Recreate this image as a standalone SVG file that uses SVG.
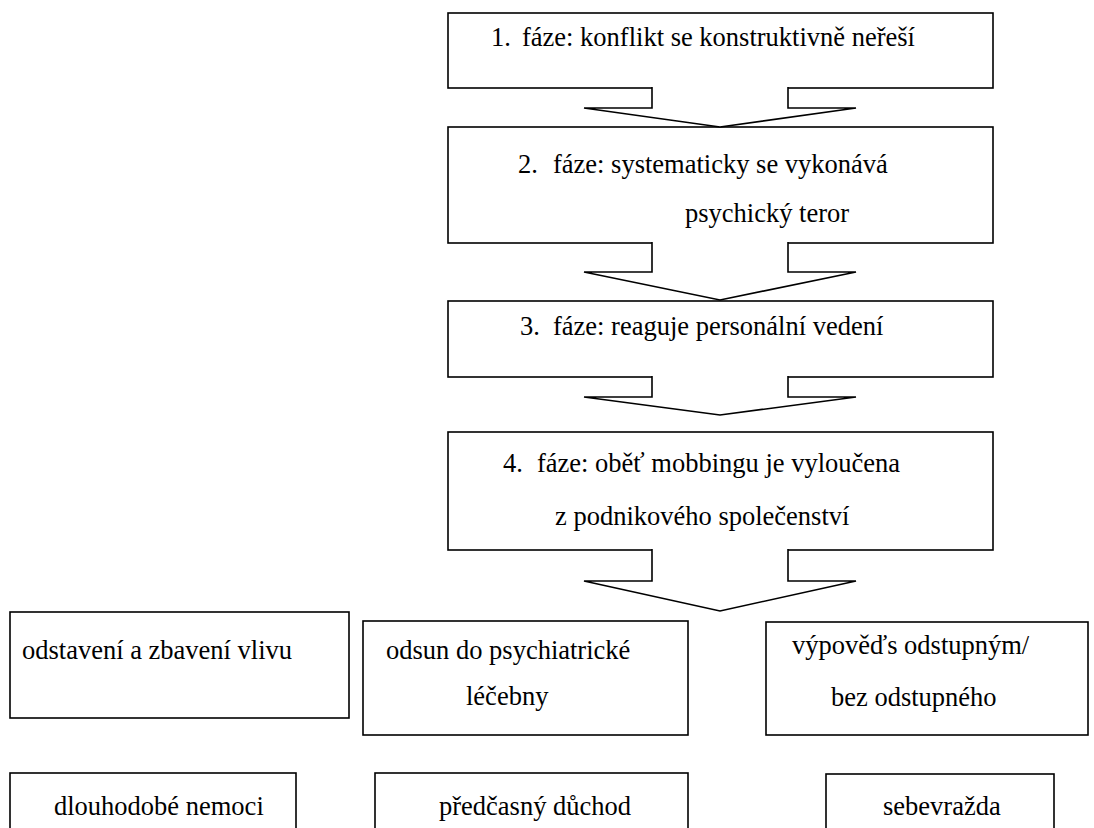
<svg xmlns="http://www.w3.org/2000/svg" width="1094" height="828" viewBox="0 0 1094 828" font-family="Liberation Serif, Times New Roman, serif" font-size="26.5">
<style>
.box{fill:#fff;stroke:#000;stroke-width:1.6}
.arr{fill:#fff;stroke:#000;stroke-width:1.6;stroke-linejoin:miter}
.t{font-family:'Liberation Serif','Times New Roman',serif;font-size:26.5px;fill:#000}
</style>
<rect width="1094" height="828" fill="#fff"/>
<g id="phase1">
<rect class="box" x="448" y="13" width="545" height="75"/>
<text class="t" x="491" y="46">1.<tspan x="522">fáze: konflikt se konstruktivně neřeší</tspan></text>
</g>
<g id="phase2">
<rect class="box" x="448" y="127" width="545" height="116"/>
<text class="t" x="518" y="173">2.<tspan x="553">fáze: systematicky se vykonává</tspan></text>
<text class="t" x="685" y="222">psychický teror</text>
</g>
<g id="phase3">
<rect class="box" x="448" y="301" width="545" height="76"/>
<text class="t" x="520" y="335">3.<tspan x="553">fáze: reaguje personální vedení</tspan></text>
</g>
<g id="phase4">
<rect class="box" x="448" y="432" width="545" height="118"/>
<text class="t" x="503" y="472">4.<tspan x="537">fáze: oběť mobbingu je vyloučena</tspan></text>
<text class="t" x="555" y="525">z podnikového společenství</text>
</g>
<g id="connectors">
<path class="arr" d="M652,87 V108 H584 L720,127 L856,108 H788 V87"/>
<path class="arr" d="M652,242 V272 H584 L720,300 L856,272 H788 V242"/>
<path class="arr" d="M652,376 V397 H584 L720,415 L856,397 H788 V376"/>
<path class="arr" d="M652,549 V581 H584 L720,611 L856,581 H788 V549"/>
</g>
<g id="outcomeA">
<rect class="box" x="10" y="612" width="339" height="106"/>
<text class="t" x="22" y="659">odstavení a zbavení vlivu</text>
</g>
<g id="outcomeB">
<rect class="box" x="363" y="621" width="325" height="114"/>
<text class="t" x="386" y="659">odsun do psychiatrické</text>
<text class="t" x="466" y="705">léčebny</text>
</g>
<g id="outcomeC">
<rect class="box" x="766" y="622" width="322" height="113"/>
<text class="t" x="792" y="654">výpověďs odstupným/</text>
<text class="t" x="831" y="706">bez odstupného</text>
</g>
<g id="resultD">
<rect class="box" x="10" y="773" width="286" height="70"/>
<text class="t" x="54" y="815">dlouhodobé nemoci</text>
</g>
<g id="resultE">
<rect class="box" x="375" y="773" width="313" height="70"/>
<text class="t" x="439" y="815">předčasný důchod</text>
</g>
<g id="resultF">
<rect class="box" x="826" y="774" width="228" height="70"/>
<text class="t" x="883" y="815">sebevražda</text>
</g>
</svg>
